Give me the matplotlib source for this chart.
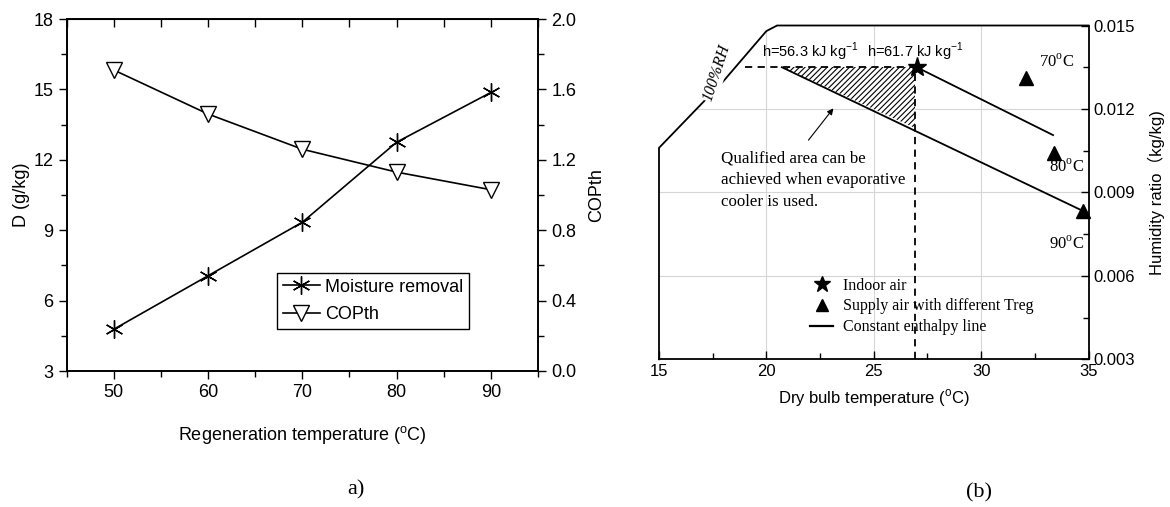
import matplotlib
matplotlib.use("Agg")
import matplotlib.pyplot as plt
from matplotlib.lines import Line2D
from matplotlib.patches import Polygon
from matplotlib.ticker import MultipleLocator

plt.rcParams['font.family'] = ['Liberation Sans', 'DejaVu Sans']
plt.rcParams['mathtext.fontset'] = 'custom'
plt.rcParams['mathtext.rm'] = 'Liberation Serif'
plt.rcParams['mathtext.sf'] = 'Liberation Sans'
plt.rcParams['hatch.linewidth'] = 0.8

# ---------------- data: panel a ----------------
regen_temp = [50, 60, 70, 80, 90]
moisture_removal = [4.78, 7.06, 9.34, 12.75, 14.87]
cop_th = [1.71, 1.46, 1.26, 1.13, 1.03]

# ---------------- data: panel b ----------------
sat_T = [15, 16, 17, 18, 19, 20, 20.5]
sat_w = [0.0106, 0.0114, 0.0122, 0.0130, 0.0139, 0.0148, 0.0150]
indoor_T, indoor_w = 27.0, 0.0135
dash_T = 26.9
dash_start_T = 19.0
supply_T = [32.1, 33.4, 34.75]
supply_w = [0.0131, 0.01042, 0.00833]
supply_labels = ['70', '80', '90']
enth_low_T = [20.72, 34.75]
enth_low_w = [0.0135, 0.00833]
enth_high_T = [27.0, 33.35]
enth_high_w = [0.0135, 0.01106]
hatch_T = [20.72, 26.9, 26.9]
hatch_w = [0.0135, 0.0135, 0.0113]
grid_T = [20, 25, 30]
grid_w = [0.006, 0.009, 0.012]

W, H = 1170, 507
fig = plt.figure(figsize=(W / 100, H / 100), dpi=100)

def frac(l, t, r, b):
    return [l / W, 1 - b / H, (r - l) / W, (b - t) / H]

# ================= panel a =================
ax1 = fig.add_axes(frac(66.7, 19, 538, 371))
ax1.plot(regen_temp, moisture_removal, color='k', lw=1.2,
         marker=(6, 2, 0), ms=13, mew=1.0, zorder=3)
ax1.set_xlim(45, 95)
ax1.set_ylim(3, 18)
ax1.xaxis.set_major_locator(MultipleLocator(10))
ax1.xaxis.set_minor_locator(MultipleLocator(5))
ax1.yaxis.set_major_locator(MultipleLocator(3))
ax1.yaxis.set_minor_locator(MultipleLocator(1.5))
ax1.tick_params(which='both', direction='out', labelsize=13, width=1.0)
ax1.tick_params(which='major', length=6)
ax1.tick_params(which='minor', length=4)
ax1.set_ylabel('D (g/kg)', fontsize=13)
ax1.yaxis.set_label_coords(-0.078, 0.5)
ax1.set_xlabel('Regeneration temperature ($^{\\mathsf{o}}$C)', fontsize=13)
ax1.xaxis.set_label_coords(0.5, -0.150)
for s in ax1.spines.values():
    s.set_linewidth(1.2)

top = ax1.secondary_xaxis('top')
top.xaxis.set_major_locator(MultipleLocator(10))
top.xaxis.set_minor_locator(MultipleLocator(5))
top.tick_params(which='both', direction='in', labeltop=False, width=1.0)
top.tick_params(which='major', length=6)
top.tick_params(which='minor', length=6)

ax2 = ax1.twinx()
ax2.plot(regen_temp, cop_th, color='k', lw=1.2, marker='v', ms=12,
         mfc='white', mec='k', mew=1.0, zorder=3)
ax2.set_ylim(0, 2.0)
ax2.yaxis.set_major_locator(MultipleLocator(0.4))
ax2.yaxis.set_minor_locator(MultipleLocator(0.2))
ax2.yaxis.set_major_formatter(matplotlib.ticker.FormatStrFormatter('%.1f'))
ax2.tick_params(which='both', direction='out', labelsize=13, width=1.0)
ax2.tick_params(which='major', length=6)
ax2.tick_params(which='minor', length=4)
ax2.set_ylabel('COPth', fontsize=13)
ax2.yaxis.set_label_coords(1.106, 0.5)
for s in ax2.spines.values():
    s.set_linewidth(1.2)

h1 = Line2D([], [], color='k', lw=1.2, marker=(6, 2, 0), ms=13, mew=1.0)
h2 = Line2D([], [], color='k', lw=1.2, marker='v', ms=12, mfc='white', mec='k')
leg = ax2.legend([h1, h2], ['Moisture removal', 'COPth'], loc='upper left',
                 bbox_to_anchor=(0.447, 0.278), borderaxespad=0, fontsize=13,
                 fancybox=False, frameon=True, edgecolor='k', framealpha=1,
                 handlelength=2.05, handletextpad=0.3, labelspacing=0.6,
                 borderpad=0.3)
leg.get_frame().set_linewidth(1.0)

fig.text(356 / W, 1 - 490 / H, 'a)', fontsize=16, family='Liberation Serif',
         ha='center', va='center')

# ================= panel b =================
axb = fig.add_axes(frac(659, 25.5, 1088.5, 359.3))
axb.set_xlim(15, 35)
axb.set_ylim(0.003, 0.015)
axb.xaxis.set_major_locator(MultipleLocator(5))
axb.xaxis.set_minor_locator(MultipleLocator(2.5))
axb.yaxis.set_major_locator(MultipleLocator(0.003))
axb.yaxis.set_minor_locator(MultipleLocator(0.0015))
axb.yaxis.set_major_formatter(matplotlib.ticker.FormatStrFormatter('%.3f'))
axb.yaxis.tick_right()
axb.yaxis.set_label_position('right')
axb.tick_params(which='both', direction='in', labelsize=12, width=1.0)
axb.tick_params(which='major', length=6)
axb.tick_params(which='minor', length=4)
axb.spines['top'].set_visible(False)
axb.spines['left'].set_visible(False)
for s in ('bottom', 'right'):
    axb.spines[s].set_linewidth(1.3)

# boundary: left vertical, saturation curve, top line
bT = [15] + sat_T + [35]
bw = [0.003] + sat_w + [0.015]
clip_poly = Polygon(list(zip(bT + [35], bw + [0.003])), closed=True,
                    transform=axb.transData, facecolor='none', edgecolor='none')
axb.add_patch(clip_poly)

for gx in grid_T:
    gl = axb.axvline(gx, color='#d6d6d6', lw=0.8, zorder=0)
    gl.set_clip_path(clip_poly)
for gy in grid_w:
    gl = axb.axhline(gy, color='#d6d6d6', lw=0.8, zorder=0)
    gl.set_clip_path(clip_poly)

axb.plot(bT, bw, color='k', lw=1.3, clip_on=False, zorder=2)

axb.text(17.7, 0.0133, '100%RH', rotation=72, fontsize=11.5,
         family='Liberation Serif', style='italic', ha='center', va='center',
         bbox=dict(facecolor='white', edgecolor='none', pad=0.5), zorder=3)

# hatched qualified area
axb.fill(hatch_T, hatch_w, facecolor='white', edgecolor='k', hatch='//////',
         lw=0, zorder=2)

# dashed lines
axb.plot([dash_start_T, dash_T], [indoor_w, indoor_w], color='k', lw=1.3,
         ls=(0, (4, 3)), zorder=3)
axb.plot([dash_T, dash_T], [0.003, indoor_w], color='k', lw=1.3,
         ls=(0, (4, 3)), zorder=3)

# constant enthalpy lines
axb.plot(enth_low_T, enth_low_w, color='k', lw=1.3, zorder=3)
axb.plot(enth_high_T, enth_high_w, color='k', lw=1.3, zorder=3)

# points
axb.plot([indoor_T], [indoor_w], marker='*', ms=14, color='k', ls='none',
         zorder=5, clip_on=False)
axb.plot(supply_T, supply_w, marker='^', ms=10, color='k', ls='none',
         zorder=5, clip_on=False)

lab_pos = [(33.5, 0.0137), (34.0, 0.00992), (34.0, 0.00714)]
for lab, (tx, ty) in zip(supply_labels, lab_pos):
    axb.text(tx, ty, lab + '$^{\\mathrm{o}}$C', fontsize=12,
             family='Liberation Serif', ha='center', va='center', zorder=6)

axb.text(19.8, 0.01405, 'h=56.3 kJ kg$^{\\mathsf{-1}}$', fontsize=10.5,
         ha='left', va='center', zorder=6)
axb.text(24.7, 0.01405, 'h=61.7 kJ kg$^{\\mathsf{-1}}$', fontsize=10.5,
         ha='left', va='center', zorder=6)

axb.annotate('', xy=(23.2, 0.0121), xytext=(21.88, 0.0108),
             arrowprops=dict(arrowstyle='-|>', color='k', lw=0.8,
                             mutation_scale=9), zorder=6)
axb.text(17.87, 0.01052,
         'Qualified area can be\nachieved when evaporative\ncooler is used.',
         fontsize=12.2, family='Liberation Serif', ha='left', va='top',
         linespacing=1.5, zorder=6)

hb1 = Line2D([], [], marker='*', ms=12, color='k', ls='none')
hb2 = Line2D([], [], marker='^', ms=9, color='k', ls='none')
hb3 = Line2D([], [], color='k', lw=1.6)
axb.legend([hb1, hb2, hb3],
           ['Indoor air', 'Supply air with different Treg',
            'Constant enthalpy line'],
           loc='upper left', bbox_to_anchor=(0.352, 0.245), borderaxespad=0,
           borderpad=0, frameon=False, prop={'family': 'Liberation Serif',
                                             'size': 11.5},
           handlelength=1.45, handletextpad=0.6, labelspacing=0.3)

axb.set_xlabel('Dry bulb temperature ($^{\\mathsf{o}}$C)', fontsize=12)
axb.xaxis.set_label_coords(0.5, -0.083)
axb.set_ylabel('Humidity ratio\uff08kg/kg)', fontsize=12,
               family=['Liberation Sans', 'Noto Sans CJK SC'])
axb.yaxis.set_label_coords(1.138, 0.5)

fig.text(979 / W, 1 - 493 / H, '(b)', fontsize=16, family='Liberation Serif',
         ha='center', va='center')

fig.savefig('out.png', dpi=100)
